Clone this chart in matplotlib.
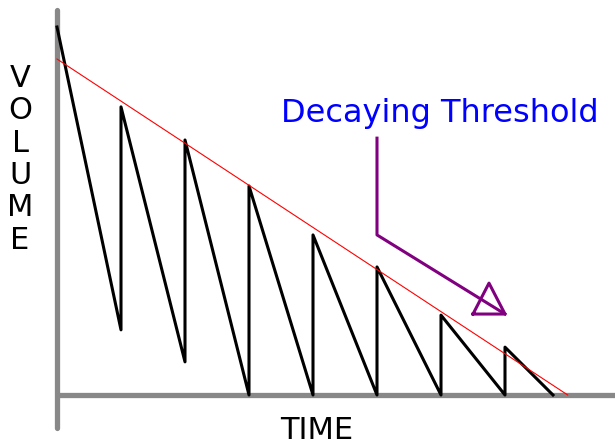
import matplotlib
matplotlib.use("Agg")
import matplotlib.pyplot as plt
import numpy as np

# sawtooth: volume drops linearly, then refills at each cycle
saw_t = [0, 1, 1, 2, 2, 3, 3, 4, 4, 5, 5, 6, 6, 7, 7, 7.75]
saw_v = [100, 17.7, 78.3, 9, 69.3, 0, 56.8, 0, 43.5, 0, 34.8, 0, 21.7, 0, 13, 0]

# decaying threshold line
thr_t = [0, 7.98]
thr_v = [91.3, 0]

# arrow path pointing at the threshold
arrow_t = [5, 5, 7]
arrow_v = [69.8, 43.5, 22]
head_t = [6.5, 7, 6.75, 6.5]
head_v = [22, 22, 30.4, 22]

fig = plt.figure(figsize=(6.15, 4.44), dpi=100)
ax = fig.add_axes([0, 0, 1, 1])
ax.set_xlim(-57 / 64, (615 - 57) / 64)
ax.set_ylim((395 - 444) / 3.68, 395 / 3.68)
ax.axis('off')

# axes lines
ax.plot([0, 0], [104.6, -9], color='#888888', lw=3.8, solid_capstyle='round', zorder=1)
ax.plot([0, 8.72], [0, 0], color='#888888', lw=3.8, solid_capstyle='butt', zorder=1)

ax.plot(saw_t, saw_v, color='black', lw=2.2, zorder=3)
ax.plot(thr_t, thr_v, color='red', lw=0.8, zorder=4)

ax.plot(arrow_t, arrow_v, color='purple', lw=2.2, zorder=5)
ax.plot(head_t, head_v, color='purple', lw=2.2, zorder=5)

ax.text(5.98, 74.2, 'Decaying Threshold', color='blue', fontsize=23,
        ha='center', va='baseline')
ax.text(4.06, -12.0, 'TIME', color='black', fontsize=22, ha='center', va='baseline')

for i, ch in enumerate('VOLUME'):
    ypix = 78.5 + i * 32.3
    ax.text(-0.578, (395 - ypix) / 3.68, ch, fontsize=22, ha='center', va='center')

fig.savefig('out.png', dpi=100)
